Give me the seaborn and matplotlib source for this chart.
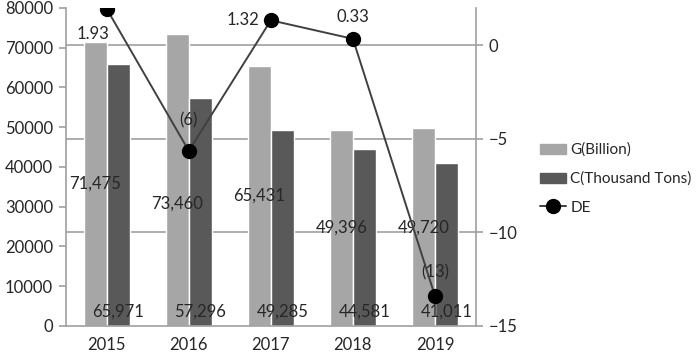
import matplotlib
matplotlib.use("Agg")
import matplotlib.pyplot as plt
import seaborn as sns
import pandas as pd
import numpy as np
from matplotlib.patches import Patch
from matplotlib.lines import Line2D

years = ["2015", "2016", "2017", "2018", "2019"]
g_values = [71475, 73460, 65431, 49396, 49720]
c_values = [65971, 57296, 49285, 44581, 41011]
de_values = [1.93, -5.65, 1.32, 0.33, -13.4]
de_labels = ["1.93", "(6)", "1.32", "0.33", "(13)"]
series_names = ["G(Billion)", "C(Thousand Tons)", "DE"]

sns.set_style("white")
plt.rcParams["font.family"] = ["Lato", "DejaVu Sans"]
plt.rcParams["font.size"] = 12

df = pd.DataFrame({"year": years * 2,
                   "value": g_values + c_values,
                   "series": [series_names[0]] * 5 + [series_names[1]] * 5})

fig = plt.figure(figsize=(6.99, 3.61), dpi=100)
ax = fig.add_axes([0.094, 0.097, 0.587, 0.881])
ax2 = ax.twinx()

axis_col = "#a0a0a0"
lo1, hi1 = 0, 80000
lo2, hi2 = -15, 1.98

# grid lines belong to the right axis but sit under the bars
for v in [0, -5, -10]:
    y = lo1 + (v - lo2) / (hi2 - lo2) * (hi1 - lo1)
    ax.axhline(y, color=axis_col, lw=1.2, zorder=0)

sns.barplot(data=df, x="year", y="value", hue="series",
            palette=["#a6a6a6", "#595959"], saturation=1, width=0.56,
            ax=ax, legend=False, zorder=2)
ax.set_ylim(lo1, hi1)
ax.set_xlim(-0.5, 4.5)
ax.set_yticks(np.arange(0, 80001, 10000))
ax.set_xlabel("")
ax.set_ylabel("")

# value labels: G near the middle, C at the base
g_bars, c_bars = ax.containers[0], ax.containers[1]
g_shift = [0, -6000, 0, 0, 0]
for bar, v, d in zip(g_bars, g_values, g_shift):
    ax.text(bar.get_x() + bar.get_width() / 2, v / 2 + d, f"{v:,}",
            ha="center", va="center", zorder=5)
for bar, v in zip(c_bars, c_values):
    ax.text(bar.get_x() + bar.get_width() / 2, 1500, f"{v:,}",
            ha="center", va="bottom", zorder=5)

x = np.arange(len(years))
ax2.plot(x, de_values, color="#404040", lw=1.4, marker="o", ms=10,
         mfc="black", mec="black", zorder=4)
ax2.set_ylim(lo2, hi2)
ax2.set_yticks([0, -5, -10, -15])

offsets = [(-10, -18), (0, 22), (-20, 0), (0, 16), (0, 17)]
for xi, v, lab, off in zip(x, de_values, de_labels, offsets):
    ax2.annotate(lab, (xi, v), xytext=off, textcoords="offset points",
                 ha="center", va="center")

for a in (ax, ax2):
    for s in a.spines.values():
        s.set_visible(False)
    a.tick_params(axis="y", length=5, color=axis_col, width=1.2, pad=4)
for a, s in [(ax, "left"), (ax, "bottom"), (ax2, "right")]:
    a.spines[s].set_visible(True)
    a.spines[s].set_color(axis_col)
    a.spines[s].set_linewidth(1.2)

ax.tick_params(axis="x", which="major", length=0, pad=8)
ax.set_xticks(np.arange(-0.5, 5, 1), minor=True)
ax.tick_params(axis="x", which="minor", length=6, color=axis_col, width=1.2)

handles = [Patch(color="#a6a6a6"), Patch(color="#595959"),
           Line2D([], [], color="#404040", lw=1.4, marker="o", ms=10,
                  mfc="black", mec="black")]
fig.legend(handles, series_names, loc="center left",
           bbox_to_anchor=(0.772, 0.505), frameon=False, fontsize=11,
           handlelength=1.7, handleheight=0.6, labelspacing=0.95,
           handletextpad=0.3, borderpad=0, borderaxespad=0)

fig.savefig("out.png", dpi=100)
